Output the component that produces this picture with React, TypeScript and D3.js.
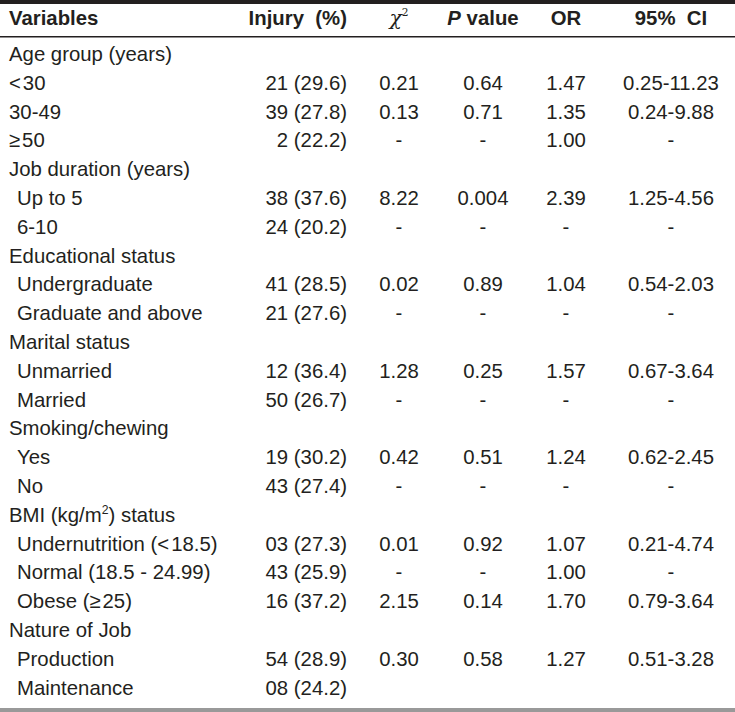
import React from "react";
import * as d3 from "d3";

const labels: string[] = [
  "Age group (years)", "<30", "30-49", "≥50",
  "Job duration (years)", "Up to 5", "6-10",
  "Educational status", "Undergraduate", "Graduate and above",
  "Marital status", "Unmarried", "Married",
  "Smoking/chewing", "Yes", "No",
  "BMI (kg/m²) status", "Undernutrition (<18.5)", "Normal (18.5 - 24.99)", "Obese (≥25)",
  "Nature of Job", "Production", "Maintenance",
];
// indentation level of each label: 0 = flush left, 1 = indented
const indent: number[] = [
  0, 0, 0, 0,
  0, 1, 1,
  0, 1, 1,
  0, 1, 1,
  0, 1, 1,
  0, 1, 1, 1,
  0, 1, 1,
];
const injury: string[] = [
  "", "21 (29.6)", "39 (27.8)", "2 (22.2)",
  "", "38 (37.6)", "24 (20.2)",
  "", "41 (28.5)", "21 (27.6)",
  "", "12 (36.4)", "50 (26.7)",
  "", "19 (30.2)", "43 (27.4)",
  "", "03 (27.3)", "43 (25.9)", "16 (37.2)",
  "", "54 (28.9)", "08 (24.2)",
];
const chi2: string[] = [
  "", "0.21", "0.13", "-",
  "", "8.22", "-",
  "", "0.02", "-",
  "", "1.28", "-",
  "", "0.42", "-",
  "", "0.01", "-", "2.15",
  "", "0.30", "",
];
const pValue: string[] = [
  "", "0.64", "0.71", "-",
  "", "0.004", "-",
  "", "0.89", "-",
  "", "0.25", "-",
  "", "0.51", "-",
  "", "0.92", "-", "0.14",
  "", "0.58", "",
];
const oddsRatio: string[] = [
  "", "1.47", "1.35", "1.00",
  "", "2.39", "-",
  "", "1.04", "-",
  "", "1.57", "-",
  "", "1.24", "-",
  "", "1.07", "1.00", "1.70",
  "", "1.27", "",
];
const ci95: string[] = [
  "", "0.25-11.23", "0.24-9.88", "-",
  "", "1.25-4.56", "-",
  "", "0.54-2.03", "-",
  "", "0.67-3.64", "-",
  "", "0.62-2.45", "-",
  "", "0.21-4.74", "-", "0.79-3.64",
  "", "0.51-3.28", "",
];

const W = 735;
const H = 712;
const FONT = "'Liberation Sans', Arial, sans-serif";
const FS = 21;
const SX = 0.97;
const COLOR = "#231f20";

type TProps = {
  x: number;
  y: number;
  anchor?: "start" | "middle" | "end";
  children?: React.ReactNode;
  [k: string]: any;
};

function T({ x, y, anchor = "start", children, ...rest }: TProps) {
  return (
    <text
      transform={`translate(${x},${y}) scale(${SX},1)`}
      textAnchor={anchor}
      style={{ whiteSpace: "pre" }}
      {...rest}
    >
      {children}
    </text>
  );
}

function renderLabel(s: string) {
  if (s.includes("²")) {
    const [a, b] = s.split("²");
    return (
      <>
        <tspan>{a}</tspan>
        <tspan fontSize={FS * 0.6} dy={-8}>2</tspan>
        <tspan dy={8}>{b}</tspan>
      </>
    );
  }
  const m = s.match(/^(.*?)([<≥])(.*)$/);
  if (m) {
    return (
      <>
        {m[1] ? <tspan>{m[1]}</tspan> : null}
        <tspan>{m[2]}</tspan>
        <tspan dx={2}>{m[3]}</tspan>
      </>
    );
  }
  return s;
}

export default function App() {
  const idx = d3.range(labels.length);
  const y = d3.scalePoint<number>().domain(idx).range([61, 694.6]);
  const xLabel = d3.scaleLinear().domain([0, 1]).range([9, 17]);

  return (
    <div style={{ position: "absolute", left: 0, top: 0, width: W, height: H, background: "#fff" }}>
      <svg width={W} height={H} style={{ display: "block" }} fontFamily={FONT} fontSize={FS} fill={COLOR}>
        <rect x={0} y={0} width={W} height={H} fill="#fff" />
        <rect x={0} y={0} width={W} height={4} fill="#231f20" />
        <rect x={0} y={36} width={W} height={1.5} fill="#231f20" />
        <rect x={0} y={708} width={W} height={4} fill="#999" />
        <g fontWeight="bold">
          <T x={9} y={25}>Variables</T>
          <T x={347} y={25} anchor="end">Injury  (%)</T>
          <T x={399} y={25} anchor="middle" fontWeight="normal" fontStyle="italic" fontFamily="'DejaVu Serif', serif">
            χ<tspan fontSize={11} dy={-9} fontStyle="normal">2</tspan>
          </T>
          <T x={483} y={25} anchor="middle">
            <tspan fontStyle="italic">P</tspan> value
          </T>
          <T x={566} y={25} anchor="middle">OR</T>
          <T x={671} y={25} anchor="middle">95%  CI</T>
        </g>
        {idx.map((i) => (
          <g key={i}>
            <T x={xLabel(indent[i])} y={y(i)!}>{renderLabel(labels[i])}</T>
            <T x={347} y={y(i)!} anchor="end">{injury[i]}</T>
            <T x={399} y={y(i)!} anchor="middle">{chi2[i]}</T>
            <T x={483} y={y(i)!} anchor="middle">{pValue[i]}</T>
            <T x={566} y={y(i)!} anchor="middle">{oddsRatio[i]}</T>
            <T x={671} y={y(i)!} anchor="middle">{ci95[i]}</T>
          </g>
        ))}
      </svg>
    </div>
  );
}
